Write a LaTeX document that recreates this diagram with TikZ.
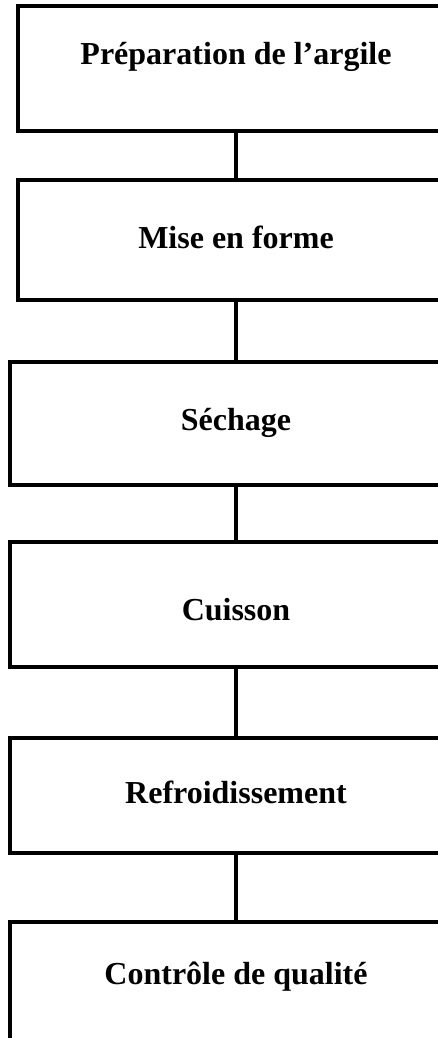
\documentclass[tikz,border=0pt]{standalone}
\usepackage{fontspec}
\setmainfont{Liberation Serif}
\begin{document}
\begin{tikzpicture}[x=1pt,y=1pt,
  stepbox/.style={draw=black, line width=3.6pt, inner sep=0pt, minimum width=#1, fill=white},
  steptext/.style={anchor=base, inner sep=0pt, font=\fontsize{32}{38}\selectfont\bfseries},
  link/.style={draw=black, line width=3.6pt}]
\useasboundingbox (0,0) rectangle (437,-1038);
\node[stepbox=436pt, minimum height=125pt] (b1) at (236,-68.5) {};
\node[stepbox=436pt, minimum height=120pt] (b2) at (236,-240) {};
\node[stepbox=452pt, minimum height=123pt] (b3) at (236,-423.5) {};
\node[stepbox=452pt, minimum height=125pt] (b4) at (236,-604.5) {};
\node[stepbox=452pt, minimum height=115pt] (b5) at (236,-795.5) {};
\node[stepbox=452pt, minimum height=125pt] (b6) at (236,-984.5) {};
\path[link] (b1.south) -- (b2.north);
\path[link] (b2.south) -- (b3.north);
\path[link] (b3.south) -- (b4.north);
\path[link] (b4.south) -- (b5.north);
\path[link] (b5.south) -- (b6.north);
\node[steptext] (t1) at (236,-65) {Préparation de l’argile};
\node[steptext] (t2) at (236,-248) {Mise en forme};
\node[steptext] (t3) at (236,-430) {Séchage};
\node[steptext] (t4) at (236,-620) {Cuisson};
\node[steptext] (t5) at (236,-803) {Refroidissement};
\node[steptext] (t6) at (236,-984) {Contrôle de qualité};
\end{tikzpicture}
\end{document}
